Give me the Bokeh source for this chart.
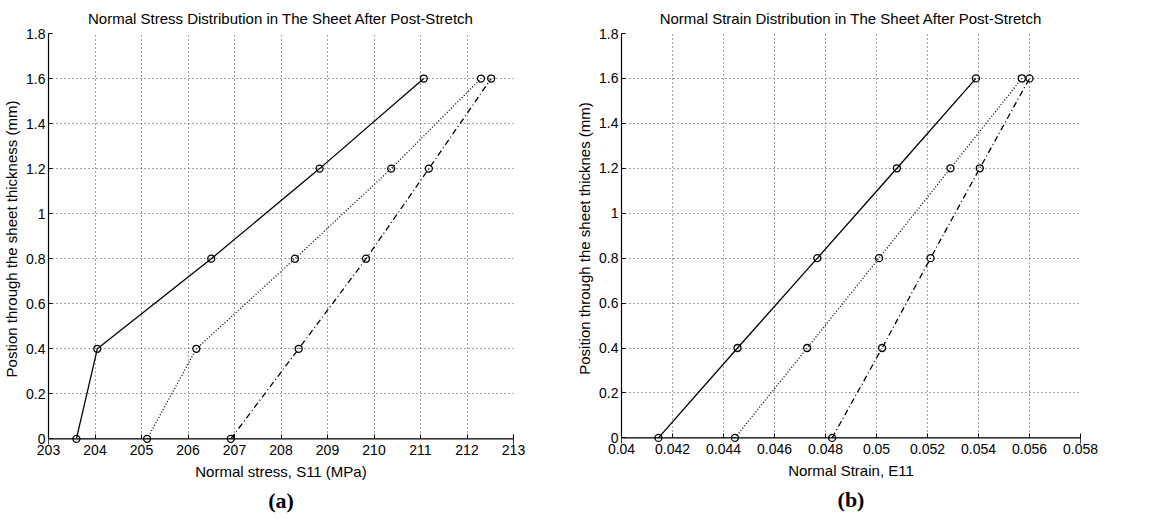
from bokeh.plotting import figure
from bokeh.layouts import row
from bokeh.models import FixedTicker, Range1d, Title, BoxAnnotation, Span
from bokeh.embed import file_html
from bokeh.resources import INLINE

# ---------------- data ----------------
position = [0.0, 0.4, 0.8, 1.2, 1.6]

stress_solid = [203.6, 204.05, 206.5, 208.83, 211.07]
stress_dotted = [205.12, 206.18, 208.3, 210.37, 212.3]
stress_dashdot = [206.92, 208.38, 209.83, 211.18, 212.52]

strain_solid = [0.04145, 0.04455, 0.04768, 0.0508, 0.0539]
strain_dotted = [0.04445, 0.04728, 0.0501, 0.0529, 0.0557]
strain_dashdot = [0.04826, 0.05022, 0.05212, 0.05405, 0.056]

y_ticks = [0, 0.2, 0.4, 0.6, 0.8, 1.0, 1.2, 1.4, 1.6, 1.8]
y_tick_labels = ["0", "0.2", "0.4", "0.6", "0.8", "1", "1.2", "1.4", "1.6", "1.8"]

stress_ticks = [203, 204, 205, 206, 207, 208, 209, 210, 211, 212, 213]
stress_tick_labels = ["203", "204", "205", "206", "207", "208", "209", "210", "211", "212", "213"]

strain_ticks = [0.04, 0.042, 0.044, 0.046, 0.048, 0.05, 0.052, 0.054, 0.056, 0.058]
strain_tick_labels = ["0.04", "0.042", "0.044", "0.046", "0.048", "0.05", "0.052", "0.054", "0.056", "0.058"]

FONT = "Liberation Sans"
Y_MIN, Y_MAX = 0.0, 1.8
Y_PAD = 0.025   # small room below y=0 so the markers on the axis are not cut


def make_panel(title, xlabel, ylabel, letter, xs, xticks, xlabels, xrange,
               fw, fh, bl, br, bb):
    p = figure(frame_width=fw, frame_height=fh, output_backend="svg",
               toolbar_location=None, x_range=Range1d(*xrange),
               y_range=Range1d(Y_MIN - Y_PAD, Y_MAX),
               min_border_left=bl, min_border_right=br,
               min_border_top=33, min_border_bottom=bb)
    p.title.text = title
    p.title.align = "center"
    p.title.text_font = FONT
    p.title.text_font_size = "15px"
    p.title.text_font_style = "normal"
    p.title.text_color = "black"
    p.title.standoff = 14

    p.outline_line_color = None
    p.background_fill_color = "white"
    p.border_fill_color = "white"

    for ax, ticks, labels, lab in ((p.xaxis[0], xticks, xlabels, xlabel),
                                   (p.yaxis[0], y_ticks, y_tick_labels, ylabel)):
        ax.ticker = FixedTicker(ticks=ticks)
        ax.major_label_overrides = {t: l for t, l in zip(ticks, labels)}
        ax.axis_label = lab
        ax.axis_label_text_font = FONT
        ax.axis_label_text_font_size = "15px"
        ax.axis_label_text_font_style = "normal"
        ax.axis_label_text_color = "black"
        ax.major_label_text_font = FONT
        ax.major_label_text_font_size = "14px"
        ax.major_label_text_color = "black"
        ax.major_tick_in = 4
        ax.major_tick_out = 0
        ax.minor_tick_in = 0
        ax.minor_tick_out = 0
        ax.axis_line_color = "black"
        ax.axis_line_width = 1.2
        ax.major_tick_line_color = "black"
        ax.major_label_standoff = 3
        ax.axis_label_standoff = 3

    # x axis: line drawn as a span at y=0, ticks reach up from the frame edge
    xa = p.xaxis[0]
    xa.axis_line_color = None
    xa.major_tick_in = 10
    xa.major_label_standoff = 0
    xa.axis_label_standoff = 5
    p.yaxis[0].bounds = (Y_MIN, Y_MAX)

    p.xgrid[0].ticker = FixedTicker(ticks=xticks)
    p.ygrid[0].ticker = FixedTicker(ticks=y_ticks)
    for g in (p.xgrid[0], p.ygrid[0]):
        g.grid_line_color = "#444444"
        g.grid_line_dash = "1 3"
        g.grid_line_width = 1

    # white strip below y=0 hides the grid / tick overhang
    p.add_layout(BoxAnnotation(top=Y_MIN, fill_color="white", fill_alpha=1,
                               line_color=None, level="guide"))
    p.add_layout(Span(location=Y_MIN, dimension="width", line_color="black",
                      line_width=1.2))

    styles = ["solid", "1 2", "6 3 1 3"]
    for xv, dash in zip(xs, styles):
        p.line(xv, position, line_color="black", line_width=1.3, line_dash=dash)
        r = p.scatter(xv, position, marker="circle", size=7, fill_color=None,
                      line_color="black", line_width=1.3)
        r.level = "annotation"

    p.add_layout(Title(text=letter, align="center", text_font="Liberation Serif",
                       text_font_size="22px", text_font_style="bold",
                       text_color="black", standoff=6), "below")
    return p


p1 = make_panel("Normal Stress Distribution in The Sheet After Post-Stretch",
                "Normal stress, S11 (MPa)",
                "Postion through the sheet thickness (mm)", "(a)",
                [stress_solid, stress_dotted, stress_dashdot],
                stress_ticks, stress_tick_labels, (203, 213),
                465, 411, 47, 60, 75)

p2 = make_panel("Normal Strain Distribution in The Sheet After Post-Stretch",
                "Normal Strain, E11",
                "Position through the sheet thicknes (mm)", "(b)",
                [strain_solid, strain_dotted, strain_dashdot],
                strain_ticks, strain_tick_labels, (0.04, 0.058),
                459, 410, 47, 90, 76)

layout = row(p1, p2)
open("out.html", "w").write(file_html(layout, INLINE))
